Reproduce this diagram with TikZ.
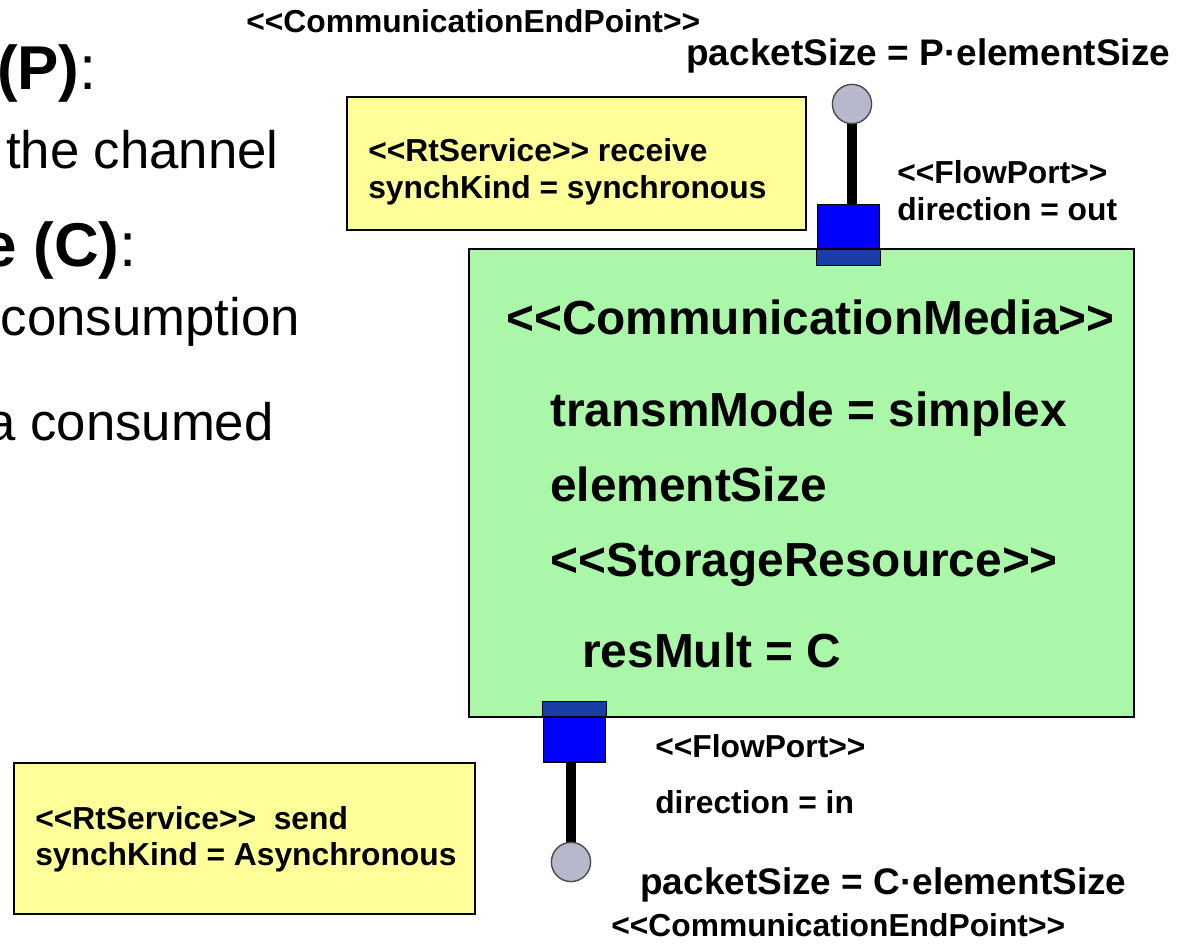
\documentclass[tikz,border=0pt]{standalone}
\usepackage{fontspec}
\setmainfont{Liberation Sans}[Ligatures=TeXOff]
\usetikzlibrary{positioning}
\definecolor{notefill}{RGB}{255,255,153}
\definecolor{mediafill}{RGB}{170,247,170}
\definecolor{portblue}{RGB}{0,0,255}
\definecolor{portmix}{RGB}{25,60,165}
\definecolor{endfill}{RGB}{184,184,204}
\newcommand{\txtsize}[2]{\fontsize{#1pt}{#2pt}\selectfont}
\begin{document}
\begin{tikzpicture}[x=0.025cm,y=-0.025cm,
    lbl/.style={inner sep=0pt,anchor=base west,font=\bfseries\txtsize{22.6}{27}},
    size/.style={font=\bfseries\txtsize{26.3}{30}},
    big/.style={inner sep=0pt,anchor=base west,font=\bfseries\txtsize{34}{40}},
    slide/.style={inner sep=0pt,anchor=base east,font=\txtsize{37.5}{45}},
    head/.style={inner sep=0pt,anchor=base east,font=\txtsize{44}{52}},
    note/.style={draw,line width=1.4pt,fill=notefill,inner sep=0pt},
    port/.style={draw,line width=1pt,fill=portblue,inner sep=0pt,minimum width=1.55cm,minimum height=1.5cm},
    endpt/.style={circle,draw=black!70,line width=1pt,fill=endfill,inner sep=0pt,minimum size=0.98cm},
    stick/.style={line width=7pt}]
  \useasboundingbox (0,0) rectangle (1180,944);

  % slide text behind the diagram
  \node[head] (hdP) at (97,90) {\textbf{(P)}:};
  \node[slide] (lnA) at (279,169) {the channel};
  \node[head] (hdC) at (137,267) {\textbf{e (C)}:};
  \node[slide] (lnB) at (300,336) {consumption};
  \node[slide] (lnC) at (274,441) {a consumed};

  % notes
  \node[note,minimum width=11.475cm,minimum height=3.325cm] (recvNote) at (576.5,163.5) {};
  \node[lbl] (recvA) at (368,162) {<<RtService>> receive};
  \node[lbl] (recvB) at (368,199) {synchKind = synchronous};
  \node[note,minimum width=11.525cm,minimum height=3.775cm] (sendNote) at (244.5,838.5) {};
  \node[lbl] (sendA) at (35,829) {<<RtService>>\ \ send};
  \node[lbl] (sendB) at (35,865) {synchKind = Asynchronous};

  % media box
  \node[fill=mediafill,inner sep=0pt,minimum width=16.625cm,minimum height=11.7cm] (media) at (801.5,483) {};

  % ports and end points
  \coordinate (outEndC) at (852,104);
  \coordinate (inEndC) at (571,862);
  \node[port] (outPort) at (848.5,234.5) {};
  \node[port] (inPort) at (574.5,732) {};
  \draw[stick] (outEndC) -- (outEndC |- outPort.north);
  \draw[stick] (inEndC) -- (inEndC |- inPort.south);
  \filldraw[portmix,draw=black,line width=1pt] (outPort.south west) rectangle (outPort.east |- media.north);
  \filldraw[portmix,draw=black,line width=1pt] (inPort.north west) rectangle (inPort.east |- media.south);
  \draw[line width=1.3pt] (media.north west) rectangle (media.south east);
  \node[endpt] (outEnd) at (outEndC) {};
  \node[endpt] (inEnd) at (inEndC) {};

  \node[big] (mediaTag) at (506,335) {<<CommunicationMedia>>};
  \node[big] (modeTxt) at (550,427) {transmMode = simplex};
  \node[big] (elemTxt) at (550,502) {elementSize};
  \node[big] (storeTag) at (550,577) {<<StorageResource>>};
  \node[big] (multTxt) at (582,668) {resMult = C};

  % port labels
  \node[lbl] (topEpTag) at (246,33) {<<CommunicationEndPoint>>};
  \node[lbl,size] (topSize) at (686,66) {packetSize = P·elementSize};
  \node[lbl] (outTag) at (897,184) {<<FlowPort>>};
  \node[lbl] (outDir) at (897,221) {direction = out};
  \node[lbl] (inTag) at (655,757) {<<FlowPort>>};
  \node[lbl] (inDir) at (655,814) {direction = in};
  \node[lbl,size] (botSize) at (640,894) {packetSize = C·elementSize};
  \node[lbl] (botEpTag) at (611,936) {<<CommunicationEndPoint>>};
\end{tikzpicture}
\end{document}
